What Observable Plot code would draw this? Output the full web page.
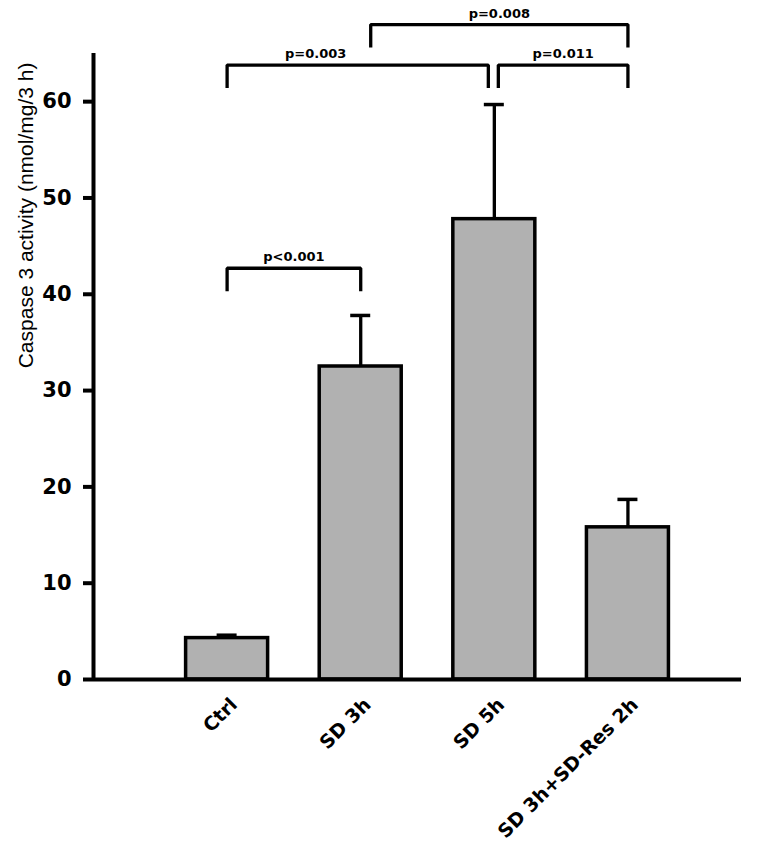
<!DOCTYPE html>
<html>
<head>
<meta charset="utf-8">
<script src="https://cdn.jsdelivr.net/npm/d3@7"></script>
<script src="https://cdn.jsdelivr.net/npm/@observablehq/plot@0.6"></script>
<style>
  html, body { margin: 0; padding: 0; background: #fff; }
  #chart svg { display: block; }
</style>
</head>
<body>
<div id="chart"></div>
<script>
// ---- data ----
const groups = ["Ctrl", "SD 3h", "SD 5h", "SD 3h+SD-Res 2h"];
const means  = [4.3, 32.5, 47.8, 15.8];
const errors = [0.3, 5.3, 11.9, 2.9];

const bracketFrom  = ["Ctrl", "Ctrl", "SD 5h", "SD 3h"];
const bracketTo    = ["SD 3h", "SD 5h", "SD 3h+SD-Res 2h", "SD 3h+SD-Res 2h"];
const bracketLevel = [42.7, 63.8, 63.8, 68.0];
const bracketLabel = ["p<0.001", "p=0.003", "p=0.011", "p=0.008"];

const yTicks = [0, 10, 20, 30, 40, 50, 60];
const yTitle = "Caspase 3 activity (nmol/mg/3 h)";

// ---- layout / style ----
const W = 767, H = 848;
const mL = 93, mR = 26, mT = 53, mB = 169;
const xDomain = [-1, 3.85];
const yDomain = [0, 65];
const pxX = (W - mL - mR) / (xDomain[1] - xDomain[0]);
const pxY = (H - mT - mB) / (yDomain[1] - yDomain[0]);
const ux = px => px / pxX;
const barHalf = ux(41);
const capHalf = ux(10);
const legDrop = 23 / pxY;
// end nudges (px) where brackets meet / sit off-centre
const endNudge = {"p=0.003": [0, -6], "p=0.011": [4, 0], "p=0.008": [10, 0], "p<0.001": [0, 0]};
const labelNudge = {"p=0.003": -42};

const idx = g => groups.indexOf(g);
const bars = groups.map((g, i) => ({g, i, mean: means[i], err: errors[i]}));
const brackets = bracketLabel.map((label, k) => ({
  label,
  a: idx(bracketFrom[k]) + ux(endNudge[label][0]),
  b: idx(bracketTo[k]) + ux(endNudge[label][1]),
  y: bracketLevel[k]
}));
const bracketPts = brackets.flatMap(d => [
  {label: d.label, x: d.a, y: d.y - legDrop},
  {label: d.label, x: d.a, y: d.y},
  {label: d.label, x: d.b, y: d.y},
  {label: d.label, x: d.b, y: d.y - legDrop}
]);

const chart = Plot.plot({
  width: W, height: H,
  marginLeft: mL, marginRight: mR, marginTop: mT, marginBottom: mB,
  style: {fontFamily: "DejaVu Sans", color: "black", background: "white"},
  x: {type: "linear", domain: xDomain, axis: null},
  y: {domain: yDomain, axis: null},
  marks: [
    Plot.axisY({ticks: yTicks, tickSize: 10, tickPadding: 12, strokeWidth: 4,
      fontSize: 21, fontWeight: "bold", label: null}),
    Plot.axisX({ticks: [0, 1, 2, 3], tickFormat: i => groups[i], tickSize: 0,
      tickRotate: -45, tickPadding: 22, dx: 7, fontSize: 19, fontWeight: "bold", label: null}),
    Plot.ruleX(bars, {x: "i", y1: "mean", y2: d => d.mean + d.err, strokeWidth: 3.3}),
    Plot.ruleY(bars, {y: d => d.mean + d.err, x1: d => d.i - capHalf, x2: d => d.i + capHalf, strokeWidth: 3.5}),
    Plot.rectY(bars, {x1: d => d.i - barHalf, x2: d => d.i + barHalf, y1: 0, y2: "mean",
      fill: "#b1b1b1", stroke: "black", strokeWidth: 3.5}),
    Plot.ruleX([xDomain[0]], {strokeWidth: 4}),
    Plot.ruleY([0], {strokeWidth: 4}),
    Plot.line(bracketPts, {x: "x", y: "y", z: "label", stroke: "black", strokeWidth: 3.3,
      strokeLinejoin: "miter", strokeLinecap: "butt"}),
    Plot.text(brackets, {x: d => (d.a + d.b) / 2 + ux(labelNudge[d.label] || 0), y: "y",
      text: "label", lineAnchor: "bottom", dy: -7, fontSize: 13, fontWeight: "bold"}),
    Plot.text([yTitle], {frameAnchor: "top-left", text: d => d, rotate: -90, textAnchor: "end",
      dx: -75, dy: 9, fontSize: 21, fontFamily: "Liberation Sans, Arial, sans-serif", fontWeight: "normal"})
  ]
});
document.getElementById("chart").appendChild(chart);
</script>
</body>
</html>
